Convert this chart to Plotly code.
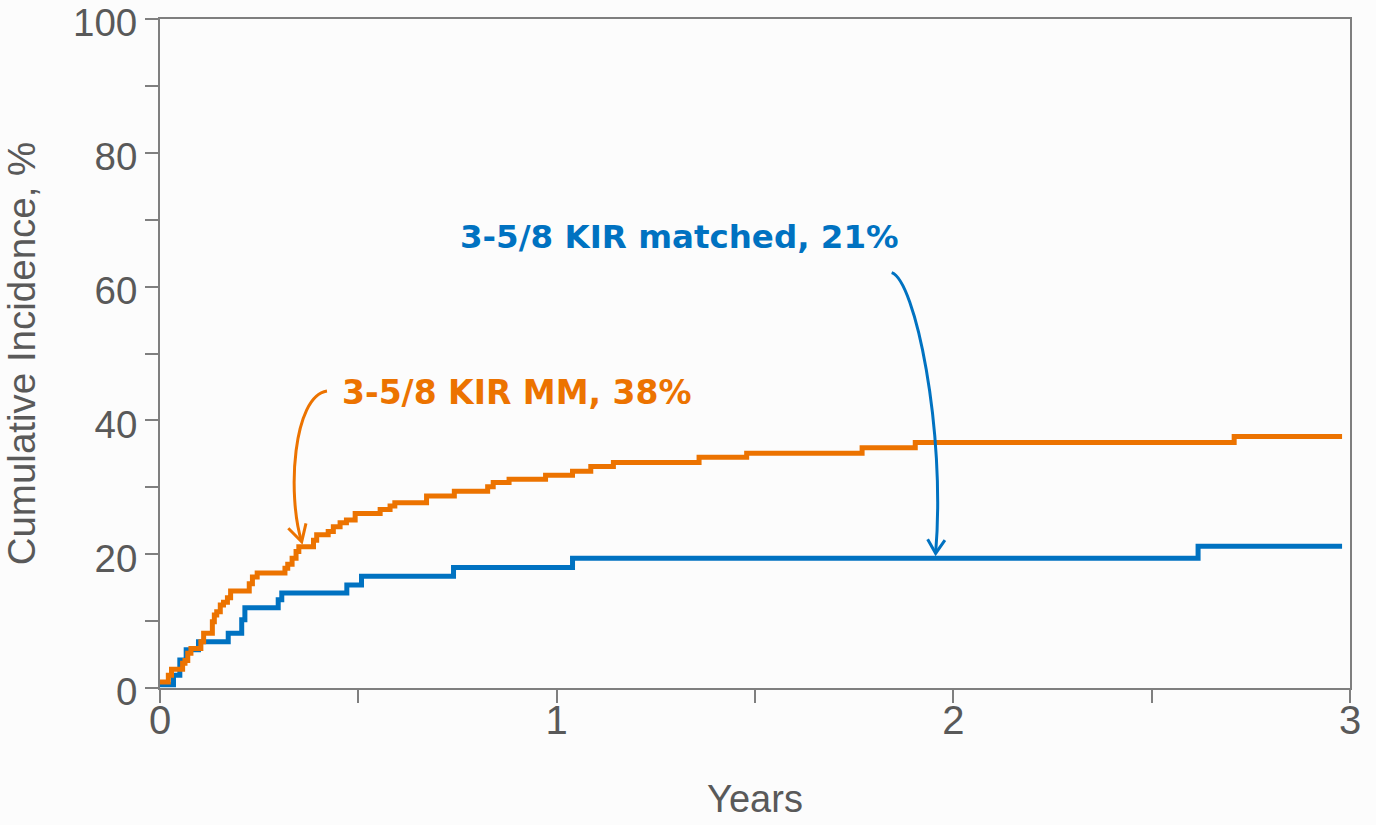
import plotly.graph_objects as go

# ---- data ----
mm_years = [0.000, 0.021, 0.029, 0.057, 0.063, 0.070, 0.078, 0.103, 0.110, 0.132,
            0.137, 0.143, 0.152, 0.160, 0.170, 0.178, 0.225, 0.233, 0.245, 0.315,
            0.322, 0.333, 0.343, 0.350, 0.387, 0.395, 0.424, 0.437, 0.454, 0.470,
            0.492, 0.555, 0.580, 0.592, 0.672, 0.742, 0.826, 0.840, 0.880, 0.972,
            1.040, 1.086, 1.143, 1.359, 1.479, 1.770, 1.904, 2.708, 2.980]
mm_cuminc = [0.9, 1.9, 2.8, 3.7, 4.1, 5.2, 5.9, 6.9, 8.2, 9.9,
             10.9, 11.4, 12.4, 12.8, 13.5, 14.5, 15.6, 16.6, 17.2, 17.9,
             18.5, 19.4, 20.4, 21.1, 22.1, 22.9, 23.4, 24.1, 24.7, 25.1,
             26.1, 26.7, 27.2, 27.7, 28.7, 29.4, 30.1, 30.7, 31.2, 31.8,
             32.4, 33.1, 33.7, 34.5, 35.1, 35.9, 36.7, 37.6, 37.6]

matched_years = [0.000, 0.034, 0.050, 0.066, 0.097, 0.172, 0.206, 0.214, 0.298, 0.307,
                 0.471, 0.508, 0.740, 1.040, 2.617, 2.980]
matched_cuminc = [0.5, 1.9, 4.2, 5.7, 6.9, 8.2, 10.2, 12.0, 13.2, 14.2,
                  15.4, 16.7, 18.0, 19.4, 21.2, 21.2]

x_ticks = [0, 1, 2, 3]
x_ticklabels = ["0", "1", "2", "3"]
y_ticks = [0, 20, 40, 60, 80, 100]
y_ticklabels = ["0", "20", "40", "60", "80", "100"]

label_mm = "3-5/8 KIR MM, 38%"
label_matched = "3-5/8 KIR matched, 21%"

ORANGE = "#EC7300"
BLUE = "#0072C1"
AXIS = "#7F7F7F"
TEXT = "#595959"
BG = "#FCFCFC"

fig = go.Figure()
fig.add_trace(go.Scatter(x=matched_years, y=matched_cuminc, mode="lines",
                         line=dict(color=BLUE, width=5, shape="hv"),
                         name=label_matched, showlegend=False))
fig.add_trace(go.Scatter(x=mm_years, y=mm_cuminc, mode="lines",
                         line=dict(color=ORANGE, width=5, shape="hv"),
                         name=label_mm, showlegend=False))

# curved arrows (decorations)
fig.add_shape(type="path", xref="x", yref="y",
              path="M 0.4210,44.39 C 0.3353,43.65 0.3201,28.85 0.3572,21.87",
              line=dict(color=ORANGE, width=3))
fig.add_shape(type="path", xref="x", yref="y",
              path="M 0.3234,23.87 L 0.3572,21.87 L 0.3680,24.62",
              line=dict(color=ORANGE, width=3))
fig.add_shape(type="path", xref="x", yref="y",
              path="M 1.8445,62.08 C 1.9032,60.99 1.9814,38.57 1.9554,20.13",
              line=dict(color=BLUE, width=3))
fig.add_shape(type="path", xref="x", yref="y",
              path="M 1.9352,22.23 L 1.9554,20.13 L 1.9788,22.12",
              line=dict(color=BLUE, width=3))

fig.add_annotation(x=0.454, y=44.1, xref="x", yref="y", text="<b>%s</b>" % label_mm,
                   showarrow=False, xanchor="left", yanchor="middle",
                   font=dict(family="DejaVu Sans", size=33, color=ORANGE))
fig.add_annotation(x=0.752, y=67.4, xref="x", yref="y", text="<b>%s</b>" % label_matched,
                   showarrow=False, xanchor="left", yanchor="middle",
                   font=dict(family="DejaVu Sans", size=32.5, color=BLUE))

axis_common = dict(showline=True, linecolor=AXIS, linewidth=2, mirror=True,
                   ticks="outside", tickcolor=AXIS, tickwidth=2, ticklen=13,
                   showgrid=False, zeroline=False, ticklabeloverflow="allow")

fig.update_xaxes(range=[0, 3], tickvals=x_ticks, ticktext=x_ticklabels,
                 ticklabelstandoff=-17,
                 tickfont=dict(family="Liberation Sans", size=40, color=TEXT),
                 minor=dict(tickvals=[0.5, 1.5, 2.5], ticks="outside", ticklen=13,
                            tickcolor=AXIS, tickwidth=2),
                 title=dict(text="Years", standoff=44,
                            font=dict(family="Liberation Sans", size=38, color=TEXT)),
                 **axis_common)
fig.update_yaxes(range=[0, 100], tickvals=y_ticks, ticktext=y_ticklabels,
                 ticklabelstandoff=0, ticklabelshift=4,
                 tickfont=dict(family="Liberation Sans", size=38.5, color=TEXT),
                 minor=dict(tickvals=[10, 30, 50, 70, 90], ticks="outside", ticklen=13,
                            tickcolor=AXIS, tickwidth=2),
                 title=dict(text="Cumulative Incidence, %", standoff=28,
                            font=dict(family="Liberation Sans", size=38.5, color=TEXT)),
                 **axis_common)

fig.update_layout(width=1376, height=825,
                  margin=dict(l=160, r=26, t=19, b=137, autoexpand=False),
                  paper_bgcolor=BG, plot_bgcolor=BG)

# remove the default page margin so the figure fills the window exactly
fig.write_html("out.html", config={"displayModeBar": False},
               post_script="document.body.style.margin='0';document.body.style.background='#FCFCFC';")
